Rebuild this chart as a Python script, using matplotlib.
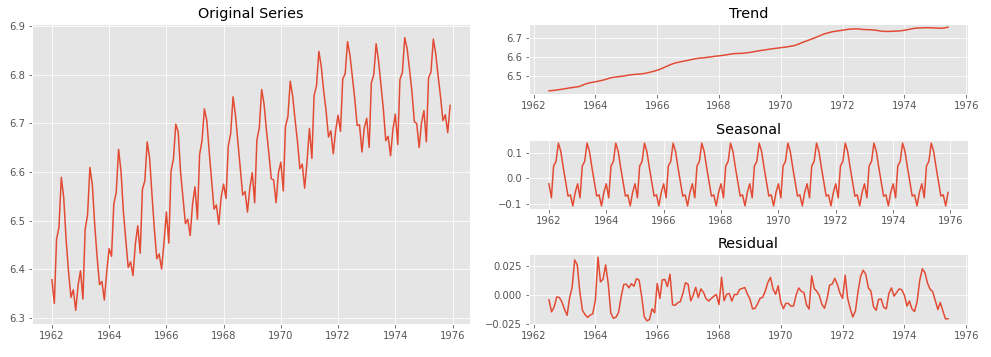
import numpy as np
import pandas as pd
import matplotlib
matplotlib.use('Agg')
import matplotlib.pyplot as plt

plt.style.use('ggplot')

# log monthly milk production, Jan 1962 - Dec 1975
log_milk = [
    6.3784, 6.3297, 6.4615, 6.4862, 6.5889, 6.5468, 6.4615, 6.3953, 6.3421, 6.3578, 6.3154, 6.3665,
    6.3969, 6.3386, 6.4816, 6.5117, 6.6093, 6.5737, 6.4922, 6.4249, 6.3682, 6.3750, 6.3368, 6.3936,
    6.4425, 6.4265, 6.5338, 6.5582, 6.6464, 6.6012, 6.5191, 6.4599, 6.4036, 6.4151, 6.3869, 6.4520,
    6.4892, 6.4329, 6.5639, 6.5820, 6.6619, 6.6280, 6.5539, 6.4816, 6.4216, 6.4313, 6.4003, 6.4536,
    6.5177, 6.4536, 6.6012, 6.6267, 6.6983, 6.6821, 6.5999, 6.5468, 6.4938, 6.5028, 6.4693, 6.5338,
    6.5695, 6.5028, 6.6359, 6.6644, 6.7298, 6.7056, 6.6425, 6.5820, 6.5236, 6.5323, 6.4922, 6.5482,
    6.5751, 6.5453, 6.6529, 6.6796, 6.7546, 6.7166, 6.6631, 6.6067, 6.5525, 6.5596, 6.5177, 6.5667,
    6.5985, 6.5367, 6.6657, 6.6908, 6.7696, 6.7393, 6.6859, 6.6386, 6.5862, 6.5834, 6.5367, 6.5985,
    6.6201, 6.5610, 6.6933, 6.7142, 6.7867, 6.7558, 6.7081, 6.6631, 6.6067, 6.6161, 6.5667, 6.6214,
    6.6896, 6.6280, 6.7569, 6.7776, 6.8480, 6.8167, 6.7673, 6.7262, 6.6720, 6.6846, 6.6373, 6.6846,
    6.7166, 6.6834, 6.7912, 6.8024, 6.8680, 6.8405, 6.7957, 6.7511, 6.6958, 6.6970, 6.6412, 6.6908,
    6.7105, 6.6503, 6.7833, 6.8002, 6.8638, 6.8287, 6.7811, 6.7298, 6.6644, 6.6733, 6.6333, 6.6871,
    6.7190, 6.6567, 6.7901, 6.8046, 6.8763, 6.8533, 6.8112, 6.7650, 6.7032, 6.6995, 6.6503, 6.7007,
    6.7262, 6.6619, 6.7935, 6.8057, 6.8732, 6.8427, 6.7979, 6.7546, 6.7056, 6.7178, 6.6809, 6.7370,
]

# trend, Jul 1962 - Jun 1975
trend = [
    6.4199, 6.4211, 6.4223, 6.4242, 6.4261, 6.4281, 6.4305, 6.4330, 6.4353, 6.4371, 6.4387, 6.4407,
    6.4438, 6.4493, 6.4552, 6.4593, 6.4628, 6.4655, 6.4677, 6.4703, 6.4732, 6.4764, 6.4801, 6.4847,
    6.4890, 6.4913, 6.4928, 6.4950, 6.4967, 6.4984, 6.5010, 6.5033, 6.5050, 6.5064, 6.5077, 6.5083,
    6.5095, 6.5116, 6.5140, 6.5174, 6.5208, 6.5246, 6.5287, 6.5334, 6.5391, 6.5451, 6.5509, 6.5572,
    6.5627, 6.5669, 6.5704, 6.5734, 6.5763, 6.5786, 6.5813, 6.5846, 6.5873, 6.5897, 6.5919, 6.5935,
    6.5943, 6.5963, 6.5988, 6.6001, 6.6018, 6.6033, 6.6046, 6.6065, 6.6087, 6.6111, 6.6133, 6.6151,
    6.6168, 6.6175, 6.6176, 6.6186, 6.6197, 6.6213, 6.6232, 6.6255, 6.6282, 6.6306, 6.6324, 6.6345,
    6.6367, 6.6386, 6.6408, 6.6429, 6.6446, 6.6460, 6.6476, 6.6496, 6.6514, 6.6537, 6.6563, 6.6585,
    6.6623, 6.6680, 6.6735, 6.6788, 6.6839, 6.6890, 6.6940, 6.6991, 6.7045, 6.7101, 6.7159, 6.7214,
    6.7252, 6.7286, 6.7324, 6.7348, 6.7367, 6.7385, 6.7407, 6.7429, 6.7449, 6.7465, 6.7471, 6.7476,
    6.7476, 6.7459, 6.7442, 6.7438, 6.7435, 6.7429, 6.7418, 6.7403, 6.7381, 6.7358, 6.7345, 6.7340,
    6.7342, 6.7348, 6.7353, 6.7358, 6.7365, 6.7381, 6.7403, 6.7431, 6.7461, 6.7489, 6.7507, 6.7519,
    6.7528, 6.7533, 6.7537, 6.7539, 6.7538, 6.7532, 6.7522, 6.7512, 6.7509, 6.7517, 6.7538, 6.7566,
]

# seasonal component, one value per calendar month (Jan..Dec)
seasonal_pattern = [-0.0213, -0.0769, 0.0490, 0.0678, 0.1399, 0.1066,
                    0.0456, -0.0113, -0.0701, -0.0650, -0.1087, -0.0557]

# residual, Jul 1962 - Jun 1975
residual = [
    -0.0040, -0.0145, -0.0101, -0.0015, -0.0020, -0.0059, -0.0123, -0.0175, -0.0027, 0.0068, 0.0307, 0.0263,
    0.0028, -0.0132, -0.0169, -0.0193, -0.0173, -0.0162, -0.0040, 0.0331, 0.0116, 0.0140, 0.0264, 0.0099,
    -0.0155, -0.0201, -0.0191, -0.0150, -0.0011, 0.0093, 0.0095, 0.0064, 0.0100, 0.0078, 0.0144, 0.0131,
    -0.0012, -0.0187, -0.0223, -0.0212, -0.0118, -0.0153, 0.0102, -0.0029, 0.0132, 0.0138, 0.0075, 0.0183,
    -0.0083, -0.0088, -0.0065, -0.0056, 0.0018, 0.0109, 0.0095, -0.0049, -0.0003, 0.0069, -0.0020, 0.0055,
    0.0026, -0.0030, -0.0051, -0.0029, -0.0009, 0.0006, -0.0082, 0.0157, -0.0048, 0.0008, 0.0015, -0.0051,
    0.0007, 0.0005, 0.0050, 0.0059, 0.0067, 0.0011, -0.0034, -0.0119, -0.0115, -0.0076, -0.0027, -0.0018,
    0.0036, 0.0112, 0.0155, 0.0054, 0.0008, 0.0082, -0.0063, -0.0117, -0.0071, -0.0072, -0.0095, -0.0093,
    0.0002, 0.0063, 0.0033, 0.0023, -0.0085, -0.0120, 0.0168, 0.0057, 0.0035, -0.0002, -0.0078, -0.0114,
    -0.0035, 0.0088, 0.0097, 0.0147, 0.0093, 0.0018, -0.0028, 0.0174, -0.0027, -0.0118, -0.0190, -0.0137,
    0.0026, 0.0164, 0.0217, 0.0182, 0.0064, 0.0036, -0.0100, -0.0131, -0.0037, -0.0033, -0.0105, -0.0119,
    0.0014, 0.0063, -0.0008, 0.0024, 0.0055, 0.0047, -0.0001, -0.0095, -0.0050, -0.0120, -0.0142, -0.0053,
    0.0128, 0.0230, 0.0196, 0.0106, 0.0052, 0.0032, -0.0047, -0.0125, -0.0063, -0.0138, -0.0205, -0.0205,
]

months = pd.date_range('1962-01-01', periods=len(log_milk), freq='MS')
inner_months = months[6:6 + len(trend)]
seasonal = np.tile(seasonal_pattern, len(log_milk) // 12)

W, H = 991, 357
fig = plt.figure(figsize=(W / 72, H / 72), dpi=72)

def box(left, top, right, bottom):
    return [left / W, 1 - bottom / H, (right - left) / W, (bottom - top) / H]

ax_orig = fig.add_axes(box(32, 24, 470, 324))
ax_trend = fig.add_axes(box(529, 24, 968, 94))
ax_seas = fig.add_axes(box(529, 140, 968, 209))
ax_resid = fig.add_axes(box(529, 254, 968, 324))

ax_orig.plot(months, log_milk)
ax_orig.set_title('Original Series')

ax_trend.plot(inner_months, trend)
ax_trend.set_title('Trend')

ax_seas.plot(months, seasonal)
ax_seas.set_title('Seasonal')

ax_resid.plot(inner_months, residual)
ax_resid.set_title('Residual')

fig.savefig('out.png', dpi=72)
